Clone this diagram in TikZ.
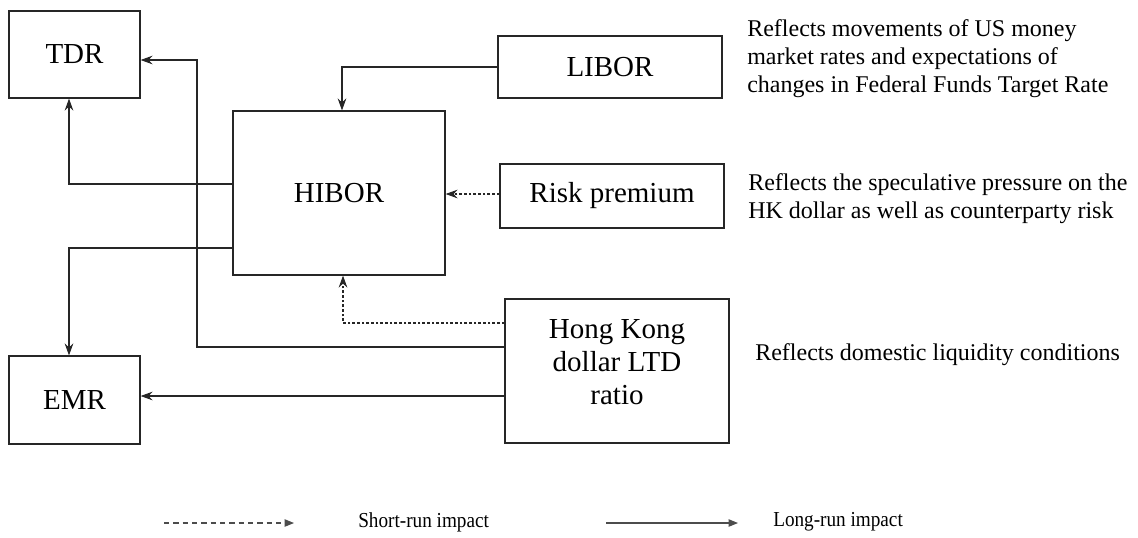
\documentclass[tikz,border=0pt]{standalone}
\usepackage{fontspec}
\setmainfont{Liberation Serif}
\usetikzlibrary{arrows.meta}
\newlength\pxu \setlength\pxu{0.75pt}
\begin{document}
\begin{tikzpicture}[x=0.75pt,y=-0.75pt,
 box/.style={draw=black!85, line width=0.9pt, inner sep=0pt, font=\fontsize{21.75}{25}\selectfont, align=center},
 conn/.style={draw=black!85, line width=0.8pt, -{Stealth[length=9pt,width=6.5pt,inset=3pt]}},
 short/.style={conn, dash pattern=on 2pt off 1.5pt},
 desc/.style={font=\fontsize{18}{21}\selectfont, align=left, anchor=north west, inner sep=0pt},
 legtext/.style={font=\fontsize{16}{18}\selectfont, anchor=west, inner sep=0pt},
 legline/.style={draw=black!70, line width=0.8pt, -{Triangle[length=7pt,width=5.5pt]}}
]
\useasboundingbox (0,0) rectangle (1138,537);
% boxes
\node[box, minimum width=131\pxu, minimum height=87\pxu] (tdr) at (74.5,54.5) {TDR};
\node[box, minimum width=131\pxu, minimum height=88\pxu] (emr) at (74.5,400) {EMR};
\node[box, minimum width=212\pxu, minimum height=164\pxu] (hibor) at (339,193) {HIBOR};
\node[box, minimum width=224\pxu, minimum height=62\pxu] (libor) at (610,67) {LIBOR};
\node[box, minimum width=224\pxu, minimum height=64\pxu] (risk) at (612,196) {Risk premium};
\node[box, minimum width=224\pxu, minimum height=144\pxu] (hk) at (617,371) {};
\node[box, draw=none] (hktext) at (617,362) {Hong Kong\\dollar LTD\\ratio};
% descriptions
\node[desc] (d1) at (747,19) {Reflects movements of US money\\market rates and expectations of\\changes in Federal Funds Target Rate};
\node[desc] (d2) at (748,173) {Reflects the speculative pressure on the\\HK dollar as well as counterparty risk};
\node[desc] (d3) at (755,343) {Reflects domestic liquidity conditions};
% connectors
\coordinate (vx) at (197,0);
\draw[conn] (libor.west) -| ([xshift=3\pxu]hibor.north);
\draw[short] (risk.west |- 0,194) -- (hibor.east |- 0,194);
\draw[short] ([yshift=48\pxu]hk.west) -| ([xshift=4\pxu]hibor.south);
\draw[conn] ([yshift=24\pxu]hk.west) -- ([yshift=24\pxu]hk.west -| vx) |- ([yshift=-5.5\pxu]tdr.east);
\draw[conn] ([yshift=-25\pxu]hk.west) -- ([yshift=-25\pxu]hk.west -| emr.east);
\draw[conn] ([yshift=9\pxu]hibor.west) -| ([xshift=-5.5\pxu]tdr.south);
\draw[conn] ([yshift=-55\pxu]hibor.west) -| ([xshift=-5.5\pxu]emr.north);
% legend
\coordinate (sa) at (164,523);
\coordinate (sb) at (294,523);
\coordinate (la) at (606,523);
\coordinate (lb) at (738,523);
\draw[legline, dash pattern=on 4pt off 3pt] (sa) -- (sb);
\draw[legline] (la) -- (lb);
\node[legtext] (st) at (358,522) {\scalebox{0.9}[1]{Short-run impact}};
\node[legtext] (lt) at (773,522) {\scalebox{0.9}[1]{Long-run impact}};
\end{tikzpicture}
\end{document}
